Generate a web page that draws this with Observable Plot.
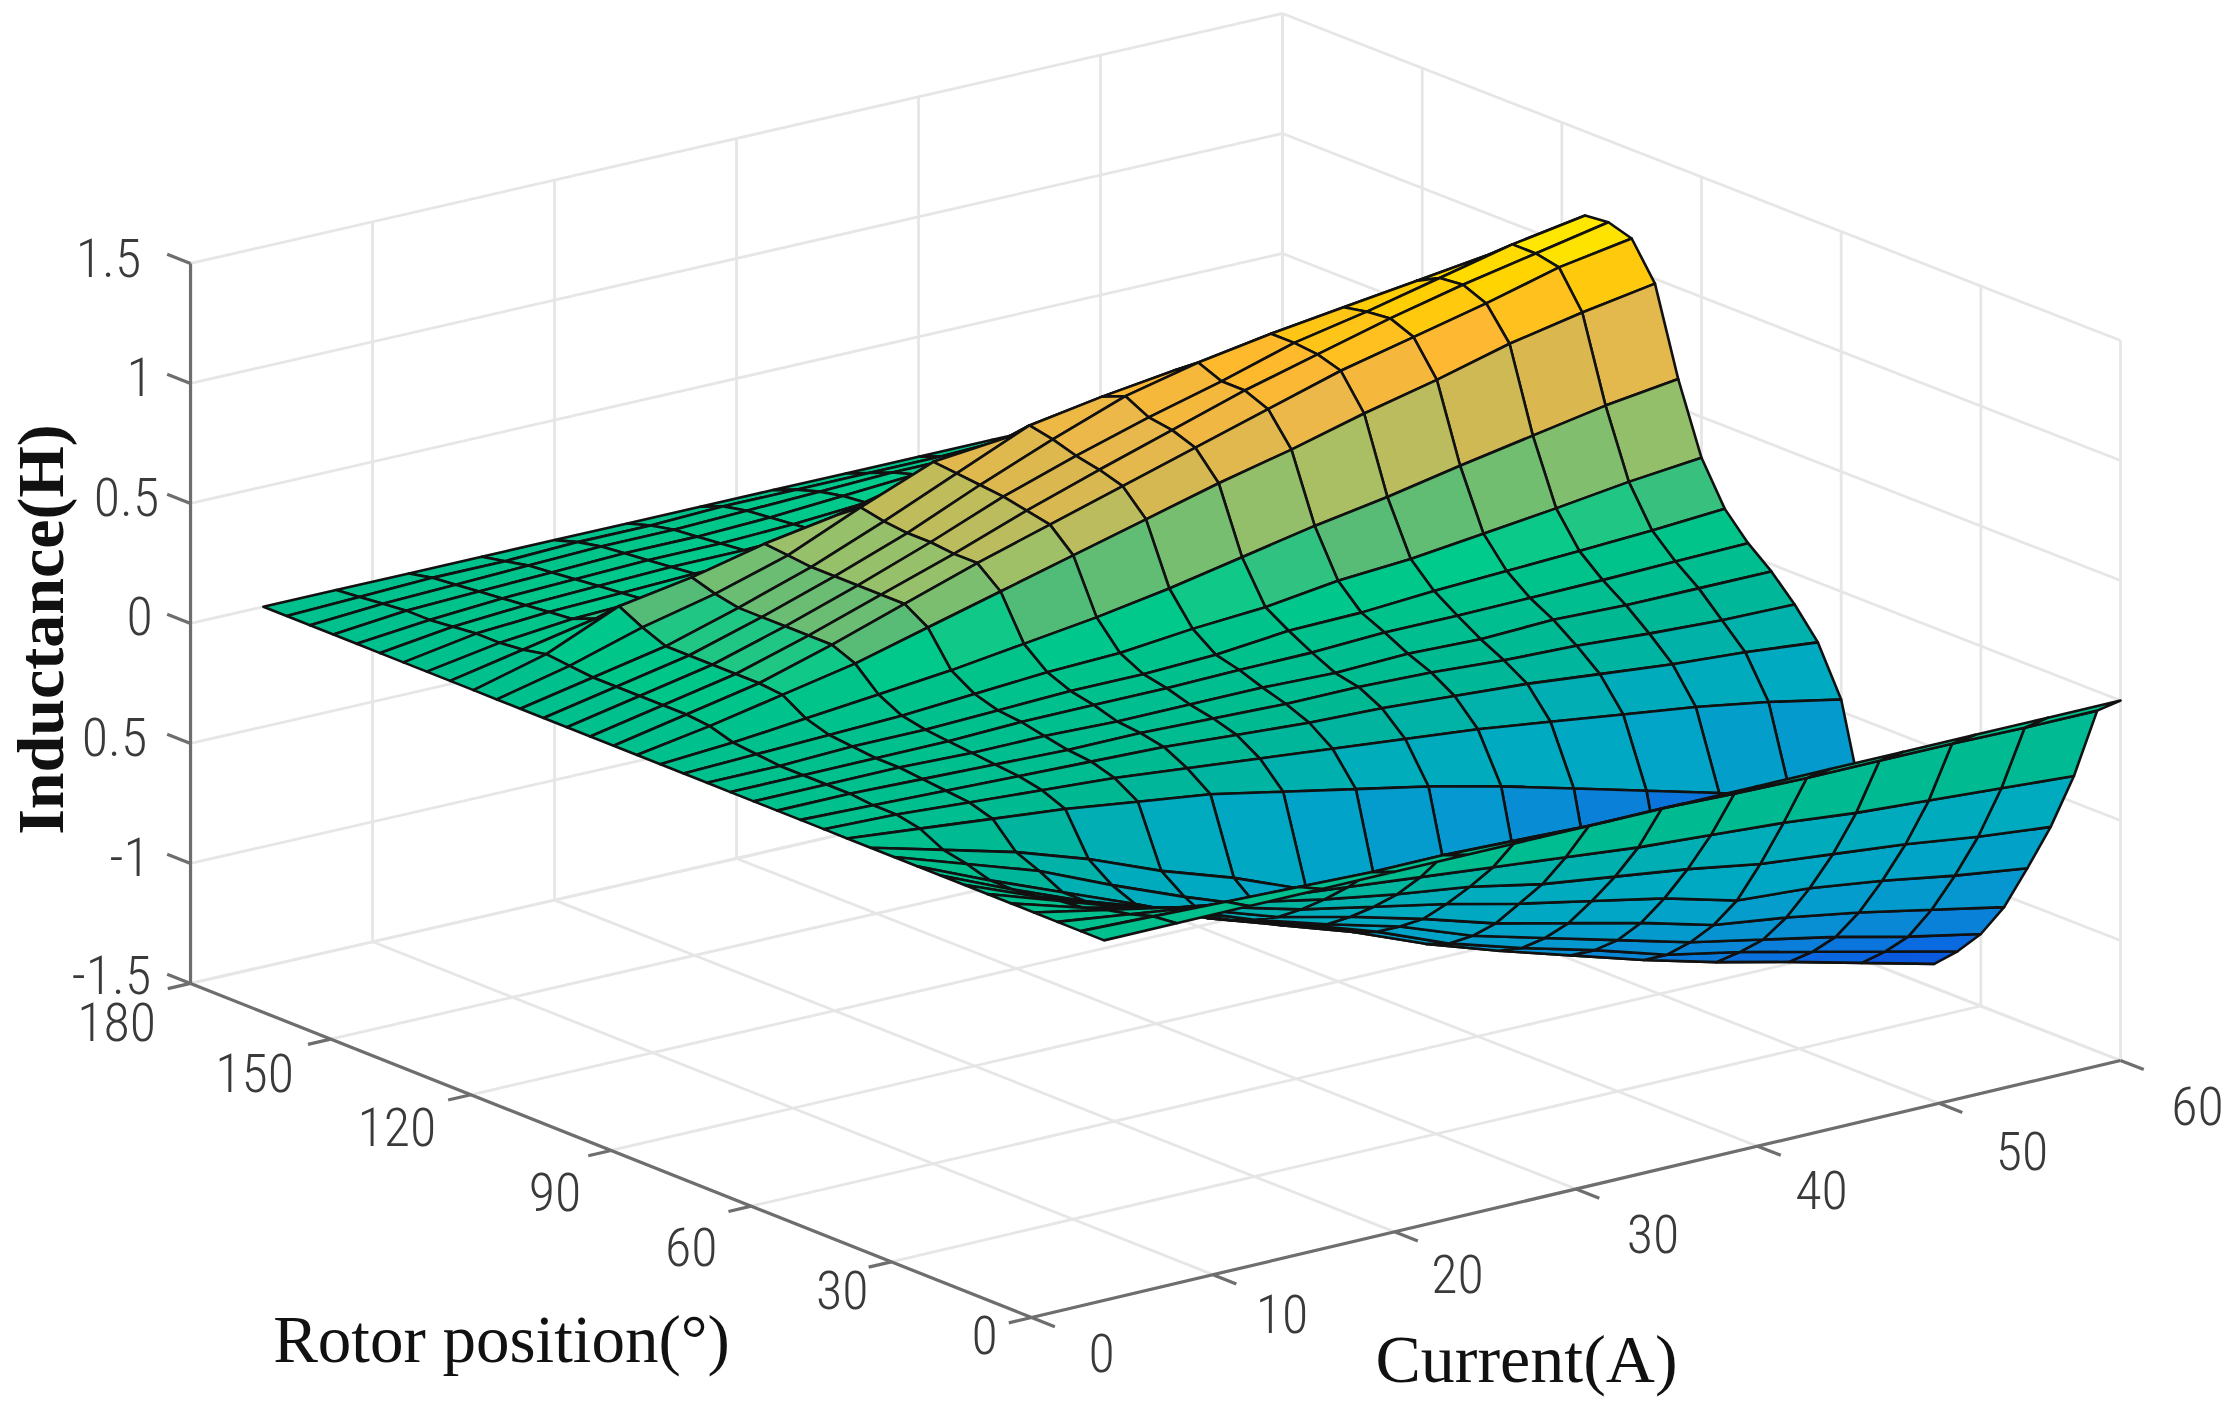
<!DOCTYPE html>
<html><head><meta charset="utf-8">
<style>html,body{margin:0;padding:0;background:#fff;overflow:hidden}svg{display:block}</style>
<script src="https://cdn.jsdelivr.net/npm/d3@7"></script>
<script src="https://cdn.jsdelivr.net/npm/@observablehq/plot@0.6"></script>
</head><body><div id="chart"></div>
<script>
// Surface grid
const currents = [4,8,12,16,20,24,28,32,36,40,44,48,52,56,60];
const positions = d3.range(0,181,5);
// inductance[row for position][column for current]
const inductance = [
[0,0,0,0,0,0,0,0,0,0,0,0,0,0,0],
[0,-.01,-.02,-.03,-.04,-.04,-.05,-.06,-.06,-.07,-.075,-.075,-.075,-.08,-.08],
[0,-.04,-.08,-.11,-.14,-.17,-.20,-.23,-.26,-.28,-.30,-.33,-.35,-.37,-.39],
[0,-.06,-.12,-.17,-.23,-.28,-.32,-.38,-.42,-.46,-.51,-.54,-.57,-.61,-.64],
[0,-.09,-.16,-.23,-.31,-.37,-.43,-.50,-.56,-.62,-.70,-.72,-.76,-.81,-.85],
[0,-.10,-.20,-.28,-.38,-.45,-.53,-.62,-.69,-.76,-.84,-.88,-.93,-.99,-1.05],
[0,-.12,-.23,-.32,-.43,-.52,-.60,-.71,-.79,-.87,-.95,-1.01,-1.07,-1.14,-1.20],
[0,-.13,-.25,-.35,-.47,-.56,-.66,-.78,-.87,-.95,-1.04,-1.10,-1.17,-1.24,-1.31],
[0,-.13,-.25,-.37,-.50,-.60,-.70,-.82,-.92,-1.01,-1.10,-1.18,-1.25,-1.325,-1.40],
[0,-.10,-.20,-.33,-.45,-.56,-.67,-.79,-.88,-.97,-1.05,-1.13,-1.20,-1.27,-1.33],
[0,-.08,-.16,-.26,-.38,-.48,-.60,-.72,-.80,-.90,-1.0,-1.08,-1.10,-1.12,-1.15],
[0,-.03,-.06,-.09,-.13,-.17,-.23,-.29,-.35,-.42,-.50,-.58,-.66,-.76,-.88],
[0,-.01,-.03,-.05,-.07,-.10,-.13,-.16,-.19,-.22,-.26,-.30,-.34,-.39,-.45],
[0,-.01,-.02,-.03,-.04,-.05,-.07,-.09,-.10,-.12,-.14,-.17,-.20,-.22,-.25],
[0,0,-.01,-.02,-.03,-.03,-.04,-.05,-.05,-.06,-.08,-.09,-.11,-.125,-.13],
[0,0,0,-.01,-.01,-.02,-.02,-.02,-.03,-.02,-.03,-.02,-.03,-.03,-.03],
[0,0,0,0,.01,.01,.01,.015,.017,.03,.03,.033,.037,.044,.05],
[0,0,.01,.01,.02,.03,.03,.04,.07,.075,.095,.107,.12,.135,.155],
[0,.01,.02,.03,.05,.07,.08,.11,.13,.17,.19,.225,.26,.30,.33],
[0,.02,.05,.08,.11,.15,.19,.24,.30,.36,.41,.47,.525,.58,.62],
[0,.05,.11,.17,.25,.33,.41,.49,.57,.64,.72,.79,.87,.93,.98],
[0,.06,.12,.21,.31,.41,.50,.59,.68,.77,.86,.93,1.0,1.08,1.13],
[0,.06,.12,.21,.31,.41,.52,.62,.715,.81,.89,.97,1.04,1.10,1.16],
[0,.06,.12,.21,.31,.42,.54,.64,.73,.81,.90,.96,1.03,1.10,1.15],
[0,.06,.12,.21,.31,.42,.55,.67,.78,.85,.90,.94,.98,1.02,1.05],
[0,.06,.12,.21,.31,.43,.56,.69,.74,.78,.80,.80,.80,.80,.80],
[0,.07,.16,.23,.32,.45,.57,.60,.64,.68,.70,.70,.70,.70,.70],
[0,.08,.21,.26,.33,.38,.45,.50,.54,.57,.58,.58,.58,.58,.58],
[0,.06,.12,.13,.17,.22,.25,.27,.30,.32,.34,.36,.38,.40,.42],
[0,.05,.08,.09,.10,.10,.11,.19,.22,.24,.26,.28,.30,.31,.32],
[0,.05,.07,.08,.09,.09,.10,.16,.18,.20,.22,.24,.25,.26,.27],
[0,.04,.06,.07,.08,.08,.09,.12,.15,.17,.19,.20,.21,.22,.23],
[0,.03,.05,.06,.07,.07,.08,.10,.13,.14,.16,.17,.18,.18,.19],
[0,.03,.04,.05,.06,.06,.07,.09,.11,.12,.13,.14,.14,.15,.15],
[0,.02,.03,.04,.05,.05,.06,.07,.08,.08,.09,.10,.10,.10,.10],
[0,.01,.02,.02,.03,.03,.04,.04,.04,.04,.05,.05,.05,.05,.05],
[0,0,0,0,0,0,0,0,0,0,0,0,0,0,0]
];
// Axis ticks
const currentTicks = [0,10,20,30,40,50,60];
const positionTicks = [0,30,60,90,120,150,180];
const inductanceTicks = [-1.5,-1,-0.5,0,0.5,1,1.5];
const inductanceLabels = ["-1.5","-1","0.5","0","0.5","1","1.5"];
// Colour map: inductance -> colour
const colorStops = [-1.42,-1.3,-1.15,-1.0,-.8,-.5,-.3,-.1,.05,.1,.15,.33,.5,.62,.8,.98,1.15];
const colorValues = ["#1a3fd8","#0a50e0","#0a68e0","#0a80d8","#0698d0","#00a8c4","#00acbc","#00b894","#00c48a","#00cc8c","#50bc78","#a0c068","#d8b850","#e8b84c","#ffb830","#ffd000","#fff000"];

// Fixed viewing transform of the 3-D box (slight perspective toward the back corner)
const px = (c,p) => 1031 + 18.15*c - 4.672*p + 3*(c/60)*(p/180);
const py = (c,p,z) => 1317 - 4.283*c - 1.856*p - 240*(z+1.5) + 7*(c/60)*(p/180);

// Quads, painted far to near
const quads = [];
for (let i = positions.length-2; i >= 0; i--) {
  for (let j = currents.length-2; j >= 0; j--) {
    const id = i*100+j, f = inductance[i][j];
    for (const [a,b] of [[i,j],[i,j+1],[i+1,j+1],[i+1,j],[i,j]]) {
      quads.push({id, f, x:px(currents[b],positions[a]), y:py(currents[b],positions[a],inductance[a][b])});
    }
  }
}
const seg = (c1,p1,z1,c2,p2,z2) => ({x1:px(c1,p1),y1:py(c1,p1,z1),x2:px(c2,p2),y2:py(c2,p2,z2)});
const lo=-1.5, hi=1.5;
const grid = [
  ...currentTicks.map(c=>seg(c,0,lo,c,180,lo)),
  ...positionTicks.map(p=>seg(0,p,lo,60,p,lo)),
  ...currentTicks.map(c=>seg(c,180,lo,c,180,hi)),
  ...inductanceTicks.map(z=>seg(0,180,z,60,180,z)),
  ...positionTicks.map(p=>seg(60,p,lo,60,p,hi)),
  ...inductanceTicks.map(z=>seg(60,0,z,60,180,z))
];
const axes = [
  seg(0,0,lo,0,180,lo), seg(0,0,lo,60,0,lo), seg(0,180,lo,0,180,hi),
  ...currentTicks.map(c=>seg(c,0,lo,c,-5,lo)),
  ...positionTicks.map(p=>seg(0,p,lo,-1.25,p,lo)),
  ...inductanceTicks.map(z=>seg(0,180,z,0,185,z))
];
// Label nudges from the tick, in px
const posNudge = [[-47,19],[-49,30],[-60,43],[-56,43],[-74,34],[-76,36],[-74,40]];
const curNudge = [[70,37],[69,41],[63,44],[77,47],[64,46],[83,49],[77,47]];
const zNudge = [[-79,-7],[-61,-5],[-76,-5],[-51,-6],[-64,-5],[-51,-5],[-82,-4]];

const tickFont = {fontFamily:"'Liberation Sans Narrow','Roboto Condensed',Roboto,sans-serif", fontSize:54, fill:"#3a3a3a", fontWeight:300, stroke:"none"};
const titleFont = {fontFamily:"'Liberation Serif',serif", fill:"#111", stroke:"none"};

const chart = Plot.plot({
  width:2240, height:1405, margin:0,
  x:{domain:[0,2240],axis:null}, y:{domain:[1405,0],axis:null},
  color:{type:"linear",domain:colorStops,range:colorValues,clamp:true},
  style:{background:"#fff",filter:"blur(0.7px)"},
  marks:[
    Plot.link(grid,{x1:"x1",y1:"y1",x2:"x2",y2:"y2",stroke:"#e6e6e6",strokeWidth:2.8}),
    Plot.link(axes,{x1:"x1",y1:"y1",x2:"x2",y2:"y2",stroke:"#6e6e6e",strokeWidth:3.2}),
    Plot.line(quads,{x:"x",y:"y",z:"id",fill:"f",stroke:"#111",strokeWidth:2.6,strokeLinejoin:"round",curve:"linear"}),
    Plot.text(positionTicks,{x:(p,i)=>px(0,p)+posNudge[i][0],y:(p,i)=>py(0,p,lo)+posNudge[i][1],text:d=>String(d),...tickFont}),
    Plot.text(currentTicks,{x:(c,i)=>px(c,0)+curNudge[i][0],y:(c,i)=>py(c,0,lo)+curNudge[i][1],text:d=>String(d),...tickFont}),
    Plot.text(inductanceTicks,{x:(z,i)=>px(0,180)+zNudge[i][0],y:(z,i)=>py(0,180,z)+zNudge[i][1],text:(z,i)=>inductanceLabels[i],...tickFont}),
    Plot.text(["Rotor position(°)"],{x:[501],y:[1340],text:d=>d,...titleFont,fontSize:67}),
    Plot.text(["Current(A)"],{x:[1526],y:[1360],text:d=>d,...titleFont,fontSize:68}),
    Plot.text(["Inductance(H)"],{x:[41],y:[629],text:d=>d,rotate:-90,...titleFont,fontWeight:"bold",fontSize:66})
  ]
});
document.getElementById("chart").append(chart);
</script></body></html>
